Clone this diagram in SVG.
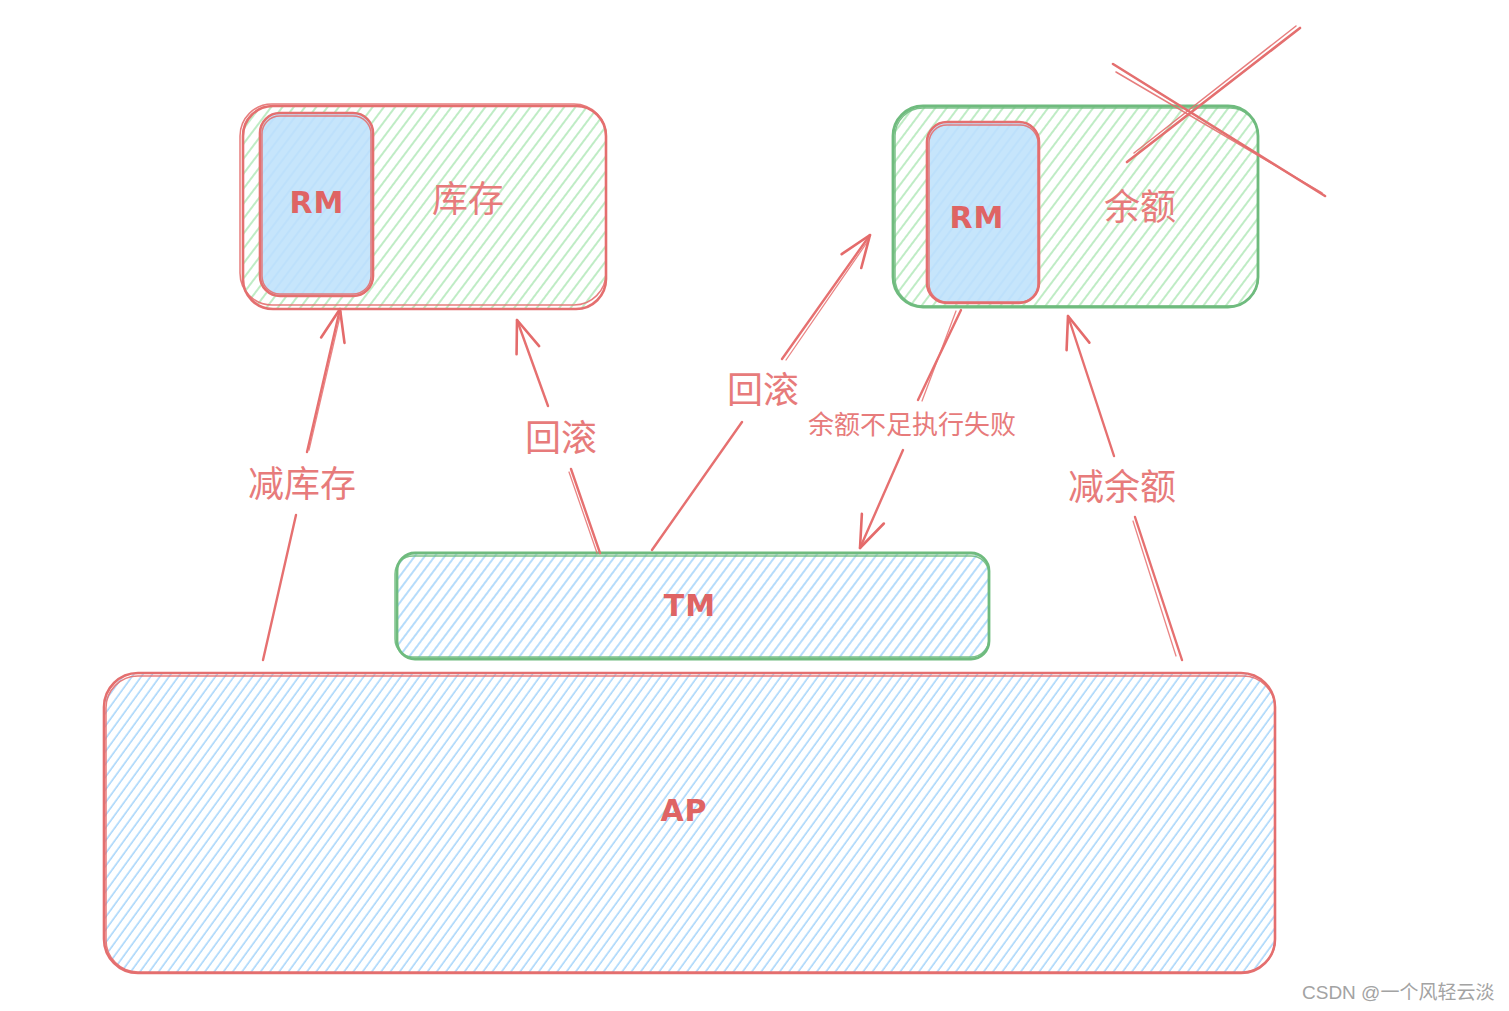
<svg xmlns="http://www.w3.org/2000/svg" width="1509" height="1011" viewBox="0 0 1509 1011">
<defs>
  <pattern id="hatchGreen" width="9" height="9" patternUnits="userSpaceOnUse" patternTransform="rotate(37)">
    <line x1="2" y1="0" x2="2" y2="9" stroke="#a9e6b1" stroke-width="1.5"/>
  </pattern>
  <pattern id="hatchBlue" width="8" height="8" patternUnits="userSpaceOnUse" patternTransform="rotate(37)">
    <line x1="2" y1="0" x2="2" y2="8" stroke="#9ed1fa" stroke-width="1.5"/>
  </pattern>
  <pattern id="hatchBlueDense" width="7.5" height="7.5" patternUnits="userSpaceOnUse" patternTransform="rotate(36)">
    <line x1="2" y1="0" x2="2" y2="7.5" stroke="#9ed1fa" stroke-width="1.4"/>
  </pattern>
  <marker id="arrow" markerUnits="userSpaceOnUse" viewBox="-36 -16 40 32" markerWidth="40" markerHeight="32" refX="0" refY="0" orient="auto" overflow="visible">
    <path d="M-32,-12 L0,0 L-32,12" fill="none" stroke="#e46b6b" stroke-width="2.6" stroke-linecap="round" stroke-linejoin="round"/>
  </marker>
</defs>
<style>
  .red { fill: none; stroke: #e46f6f; stroke-width: 2.6; stroke-linecap: round; }
  .redThin { fill: none; stroke: #e46f6f; stroke-width: 1.5; stroke-linecap: round; opacity: 0.9; }
  .green { fill: none; stroke: #6fbb7e; stroke-width: 2.8; }
  .greenThin { fill: none; stroke: #6fbb7e; stroke-width: 1.5; opacity: 0.9; }
  .conn { fill: none; stroke: #e67070; stroke-width: 2.4; stroke-linecap: round; }
  .connThin { fill: none; stroke: #e67070; stroke-width: 1.3; stroke-linecap: round; opacity: 0.85; }
  .cn { font-family: "Noto Sans CJK SC", "Noto Sans", sans-serif; fill: #e77b7b; text-anchor: middle; dominant-baseline: central; }
  .latin { font-family: "DejaVu Sans", "Liberation Sans", sans-serif; fill: #df6464; text-anchor: middle; dominant-baseline: central; font-size: 30px; font-weight: bold; letter-spacing: 1px; }
  .wm { font-family: "Liberation Sans", "Noto Sans CJK SC", sans-serif; fill: #a3a3a3; font-size: 19px; }
</style>

<g id="node-inventory">
  <rect x="243" y="106" width="363" height="203" rx="30" fill="url(#hatchGreen)"/>
  <rect x="243" y="106" width="363" height="203" rx="30" class="red"/>
  <rect x="240" y="104" width="366" height="201" rx="32" class="redThin"/>
  <text x="468" y="196" class="cn" font-size="36">库存</text>
</g>

<g id="node-rm-inventory">
  <rect x="260" y="113" width="113" height="183" rx="20" fill="#c6e5fb"/>
  <rect x="260" y="113" width="113" height="183" rx="20" fill="url(#hatchBlue)" opacity="0.3"/>
  <rect x="260" y="113" width="113" height="183" rx="20" class="red"/>
  <rect x="262" y="116" width="109" height="178" rx="18" class="redThin"/>
  <text x="317" y="202" class="latin">RM</text>
</g>

<g id="node-balance">
  <rect x="893" y="106" width="365" height="201" rx="30" fill="url(#hatchGreen)"/>
  <rect x="893" y="106" width="365" height="201" rx="30" class="green"/>
  <rect x="895" y="108" width="363" height="198" rx="28" class="greenThin"/>
  <text x="1140" y="204" class="cn" font-size="36">余额</text>
</g>

<g id="node-rm-balance">
  <rect x="927" y="122" width="112" height="181" rx="20" fill="#c6e5fb"/>
  <rect x="927" y="122" width="112" height="181" rx="20" fill="url(#hatchBlue)" opacity="0.3"/>
  <rect x="927" y="122" width="112" height="181" rx="20" class="red"/>
  <rect x="929" y="125" width="109" height="177" rx="18" class="redThin"/>
  <text x="977" y="217" class="latin">RM</text>
</g>

<g id="node-cross">
  <line x1="1113" y1="64" x2="1325" y2="196" class="red"/>
  <line x1="1116" y1="72" x2="1322" y2="193" class="redThin"/>
  <line x1="1300" y1="28" x2="1127" y2="162" class="red"/>
  <line x1="1296" y1="26" x2="1134" y2="153" class="redThin"/>
</g>

<g id="node-tm">
  <rect x="397" y="553" width="592" height="106" rx="18" fill="url(#hatchBlue)"/>
  <rect x="397" y="553" width="592" height="106" rx="18" class="green"/>
  <rect x="395" y="556" width="594" height="101" rx="18" class="greenThin"/>
  <text x="690" y="605" class="latin">TM</text>
</g>

<g id="node-ap">
  <rect x="104" y="673" width="1171" height="300" rx="34" fill="url(#hatchBlueDense)"/>
  <rect x="104" y="673" width="1171" height="300" rx="34" class="red"/>
  <rect x="106" y="676" width="1169" height="296" rx="32" class="redThin"/>
  <text x="684" y="810" class="latin">AP</text>
</g>

<g id="connectors">
  <path d="M263,660 L296,515" class="conn"/>
  <path d="M307,452 L340,309" class="conn" marker-end="url(#arrow)"/>
  <path d="M309,450 L341,312" class="connThin"/>
  <text x="302" y="481" class="cn" font-size="36">减库存</text>

  <path d="M600,553 L571,469" class="conn"/>
  <path d="M548,406 L517,320" class="conn" marker-end="url(#arrow)"/>
  <path d="M597,553 L569,472" class="connThin"/>
  <text x="561" y="435" class="cn" font-size="36">回滚</text>

  <path d="M652,550 L742,422" class="conn"/>
  <path d="M782,359 L870,235" class="conn" marker-end="url(#arrow)"/>
  <path d="M786,360 L868,241" class="connThin"/>
  <text x="763" y="387" class="cn" font-size="36">回滚</text>

  <path d="M961,310 L918,400" class="conn"/>
  <path d="M956,311 L922,401" class="connThin"/>
  <path d="M903,450 L860,548" class="conn" marker-end="url(#arrow)"/>
  <text x="912" y="422" class="cn" font-size="26">余额不足执行失败</text>

  <path d="M1182,660 L1135,517" class="conn"/>
  <path d="M1176,656 L1133,521" class="connThin"/>
  <path d="M1114,456 L1068,316" class="conn" marker-end="url(#arrow)"/>
  <text x="1122" y="484" class="cn" font-size="36">减余额</text>
</g>

<text x="1302" y="999" class="wm">CSDN @一个风轻云淡</text>
</svg>
